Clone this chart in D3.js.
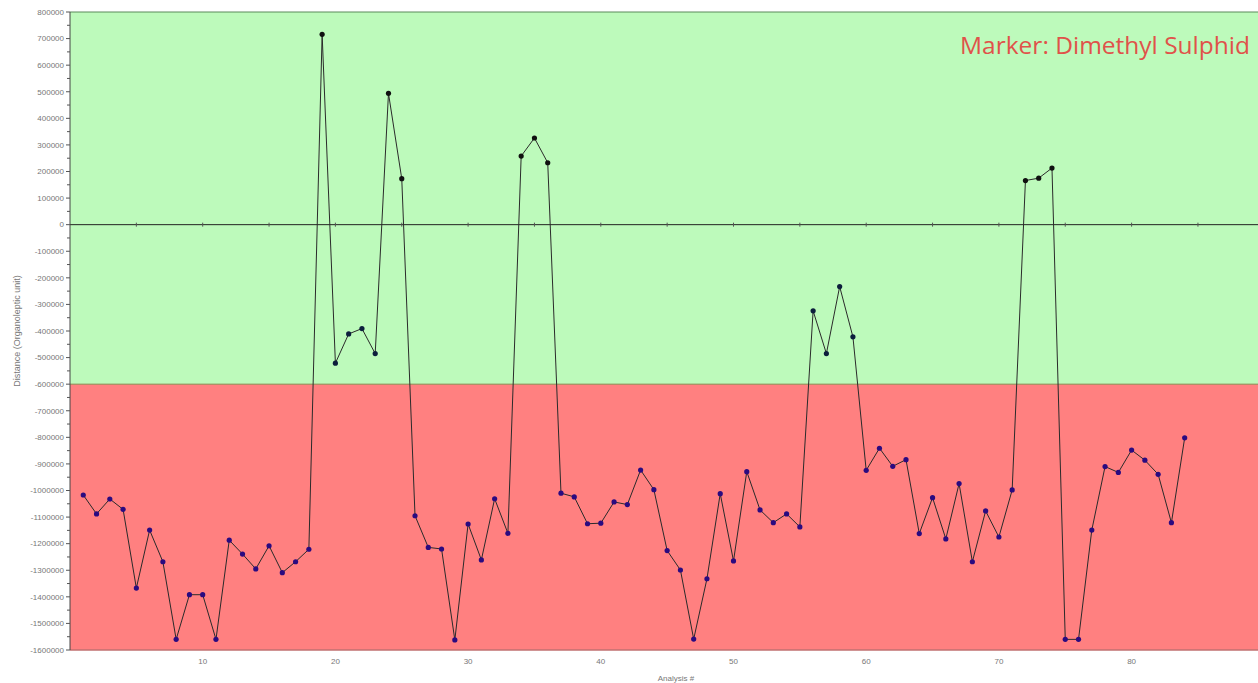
<!DOCTYPE html>
<html>
<head>
<meta charset="utf-8">
<script src="https://cdn.jsdelivr.net/npm/d3@7"></script>
<style>
html,body{margin:0;padding:0;background:#fff;overflow:hidden;}
svg{display:block;}
</style>
</head>
<body>
<svg id="chart" width="1258" height="683"></svg>
<script>
// Analysis numbers 1..84
const analysis = d3.range(1, 85);
// Distance values (Organoleptic unit)
const distance = [
  -1017000, -1088000, -1032000, -1071000, -1367000, -1149000, -1268000, -1560000, -1392000, -1392000,
  -1560000, -1187000, -1239000, -1295000, -1208000, -1309000, -1268000, -1221000, 716000, -521000,
  -411000, -391000, -485000, 494000, 173000, -1095000, -1214000, -1220000, -1562000, -1126000,
  -1261000, -1031000, -1161000, 258000, 326000, 233000, -1010000, -1024000, -1125000, -1123000,
  -1043000, -1053000, -923000, -997000, -1226000, -1299000, -1559000, -1332000, -1012000, -1265000,
  -929000, -1073000, -1121000, -1088000, -1137000, -324000, -485000, -233000, -422000, -924000,
  -841000, -909000, -884000, -1162000, -1027000, -1182000, -974000, -1268000, -1077000, -1175000,
  -998000, 166000, 175000, 213000, -1560000, -1560000, -1149000, -910000, -932000, -848000,
  -886000, -939000, -1121000, -802000
];
const yTickValues = d3.range(-1600000, 800001, 100000);
const xTickValues = [10, 20, 30, 40, 50, 60, 70, 80];
const threshold = -600000;
const markerTitle = "Marker: Dimethyl Sulphid";
const yTitle = "Distance (Organoleptic unit)";
const xTitle = "Analysis #";

(function () {
const svg = d3.select("#chart");
const mLeft = 70, mTop = 12, mBottom = 650;
const x = d3.scaleLinear().domain([0, 90]).range([mLeft, mLeft + 90 * 13.27]);
const y = d3.scaleLinear().domain([-1600000, 800000]).range([mBottom, mTop]);
const plotRight = 1258;

svg.append("defs").append("clipPath").attr("id", "plotclip")
  .append("rect").attr("x", mLeft).attr("y", mTop - 2).attr("width", plotRight - mLeft).attr("height", mBottom - mTop + 4);

const plot = svg.append("g").attr("clip-path", "url(#plotclip)");

// zones
plot.append("rect").attr("x", mLeft).attr("y", y(800000)).attr("width", plotRight - mLeft)
  .attr("height", y(threshold) - y(800000)).attr("fill", "#bdfabb");
plot.append("rect").attr("x", mLeft).attr("y", y(threshold)).attr("width", plotRight - mLeft)
  .attr("height", y(-1600000) - y(threshold)).attr("fill", "#ff8080");
// zone boundary & frame lines
plot.append("line").attr("x1", mLeft).attr("x2", plotRight).attr("y1", y(threshold)).attr("y2", y(threshold))
  .attr("stroke", "#8a8a50").attr("stroke-width", 1);
plot.append("line").attr("x1", mLeft).attr("x2", plotRight).attr("y1", y(800000)).attr("y2", y(800000))
  .attr("stroke", "#5a8a5a").attr("stroke-width", 1);
plot.append("line").attr("x1", mLeft).attr("x2", plotRight).attr("y1", y(-1600000)).attr("y2", y(-1600000))
  .attr("stroke", "#c07070").attr("stroke-width", 1.5);

// zero line with ticks
plot.append("line").attr("x1", mLeft).attr("x2", plotRight).attr("y1", y(0)).attr("y2", y(0))
  .attr("stroke", "#222").attr("stroke-width", 1);
plot.selectAll(".zt").data(d3.range(5, 90, 5)).enter().append("line")
  .attr("x1", d => x(d)).attr("x2", d => x(d))
  .attr("y1", y(0) - 2).attr("y2", y(0) + 2).attr("stroke", "#555").attr("stroke-width", 1);

// data line
const pts = analysis.map((a, i) => ({a, v: distance[i]}));
plot.append("path").datum(pts)
  .attr("fill", "none").attr("stroke", "#2a2a2a").attr("stroke-width", 1)
  .attr("d", d3.line().x(d => x(d.a)).y(d => y(d.v)));
plot.selectAll(".pt").data(pts).enter().append("circle")
  .attr("cx", d => x(d.a)).attr("cy", d => y(d.v)).attr("r", 2.6)
  .attr("fill", d => d.v > threshold ? (d.v > 0 ? "#101010" : "#0c1e3c") : "#2a0a80");

// y axis
const yAxis = svg.append("g").attr("transform", `translate(${mLeft},0)`);
yAxis.append("line").attr("x1", 0).attr("x2", 0).attr("y1", mTop).attr("y2", mBottom).attr("stroke", "#444");
yAxis.selectAll(".mt").data(d3.range(-1550000, 800000, 100000)).enter().append("line")
  .attr("x1", -3).attr("x2", 0).attr("y1", d => y(d)).attr("y2", d => y(d)).attr("stroke", "#555");
yAxis.selectAll(".Mt").data(yTickValues).enter().append("line")
  .attr("x1", -4).attr("x2", 0).attr("y1", d => y(d)).attr("y2", d => y(d)).attr("stroke", "#555");
yAxis.selectAll(".yl").data(yTickValues).enter().append("text")
  .attr("x", -6).attr("y", d => y(d)).attr("dy", "0.35em").attr("text-anchor", "end")
  .attr("font-family", "Liberation Sans, Arial, sans-serif").attr("font-size", 8).attr("fill", "#777")
  .text(d => String(d));

// x axis labels
svg.selectAll(".xl").data(xTickValues).enter().append("text")
  .attr("x", d => x(d)).attr("y", 664).attr("text-anchor", "middle")
  .attr("font-family", "Liberation Sans, Arial, sans-serif").attr("font-size", 8).attr("fill", "#777")
  .text(d => d);

svg.append("text").attr("x", 676).attr("y", 681).attr("text-anchor", "middle")
  .attr("font-family", "Liberation Sans, Arial, sans-serif").attr("font-size", 8).attr("fill", "#777")
  .text(xTitle);

svg.append("text").attr("transform", `translate(20,${(mTop + mBottom) / 2}) rotate(-90)`)
  .attr("text-anchor", "middle")
  .attr("font-family", "Liberation Sans, Arial, sans-serif").attr("font-size", 9).attr("fill", "#777")
  .text(yTitle);

svg.append("text").attr("x", 1250).attr("y", 54).attr("text-anchor", "end")
  .attr("font-family", "Open Sans, Noto Sans, sans-serif").attr("font-size", 24.5).attr("fill", "#e0524a")
  .text(markerTitle);
})();
</script>
</body>
</html>
